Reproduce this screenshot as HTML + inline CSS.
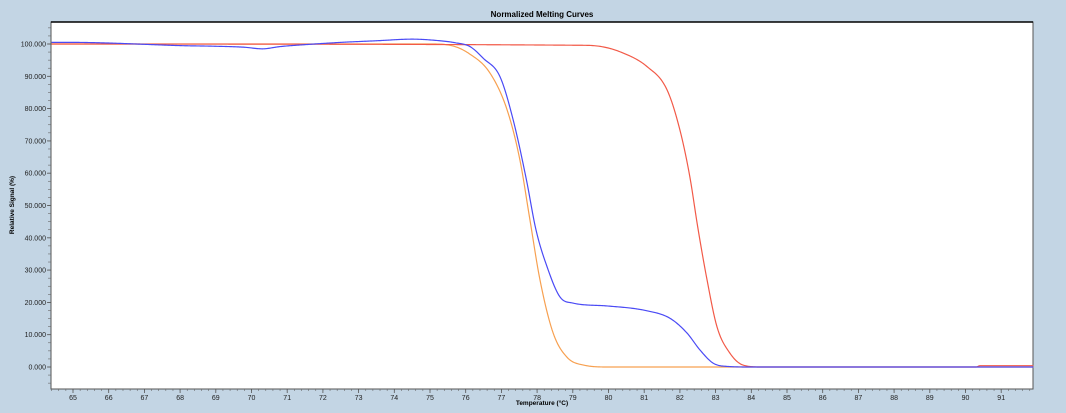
<!DOCTYPE html>
<html><head><meta charset="utf-8"><style>
html,body{margin:0;padding:0;background:#c3d5e4;}
svg{display:block;font-family:"Liberation Sans",sans-serif;}
</style></head><body>
<svg id="chart" width="1066" height="413" viewBox="0 0 1066 413" xmlns="http://www.w3.org/2000/svg">
<rect x="0" y="0" width="1066" height="413" fill="#c3d5e4"/>
<text x="542" y="17" font-size="8" font-weight="bold" text-anchor="middle" fill="#000">Normalized Melting Curves</text>
<rect x="51" y="22" width="982" height="367" fill="#fff" stroke="#555" stroke-width="1"/>
<line x1="51" y1="22" x2="1033" y2="22" stroke="#000" stroke-width="1.5"/>
<g id="axes"></g>
<g id="series"></g>
<text x="14" y="205" font-size="6.5" font-weight="bold" text-anchor="middle" transform="rotate(-90 14 205)">Relative Signal (%)</text>
<text x="542" y="405" font-size="6.5" font-weight="bold" text-anchor="middle">Temperature (°C)</text>
</svg>
<script>
const xTicks = [65,66,67,68,69,70,71,72,73,74,75,76,77,78,79,80,81,82,83,84,85,86,87,88,89,90,91];
const yTicks = [0,10,20,30,40,50,60,70,80,90,100];
const yTickLabels = ["0.000","10.000","20.000","30.000","40.000","50.000","60.000","70.000","80.000","90.000","100.000"];

const blueT = [64.4,65,66,67,68,69,69.8,70.3,70.8,71.5,72.5,73.5,74.5,75.28,75.7,76.12,76.5,76.96,77.33,77.7,77.97,78.28,78.64,79.0,79.96,81.08,81.72,82.2,82.56,82.93,83.3,84,91.9];
const blueV = [100.5,100.5,100.3,99.9,99.5,99.3,99,98.5,99.2,99.8,100.5,101,101.5,101,100.4,99.2,95.5,89.9,76.5,58,42.4,31,21.7,19.8,18.9,17.4,15.1,10.5,5.3,1.2,0.2,0,0];

const orangeT = [64.4,75,75.56,76.1,76.68,77.16,77.52,77.8,78.08,78.45,78.84,79.3,80,91.9];
const orangeV = [100,100,99.6,97,91,79.6,64,45.5,27,10.5,3,0.6,0,0];

const redT = [64.4,79.3,79.8,80.32,81.08,81.64,82.0,82.28,82.5,82.76,83.04,83.4,83.77,84.3,90.3,90.4,91.9];
const redV = [100,99.6,99.2,97.6,93,85.8,73.4,58.8,43.3,27,12.4,4.3,0.6,0,0,0.4,0.4];

const NS='http://www.w3.org/2000/svg';
const x = t => 73 + (t-65)*35.7;
const y = v => 367 - v*3.23;
const axes = document.getElementById('axes');
const series = document.getElementById('series');
function mk(tag, attrs, parent){const e=document.createElementNS(NS,tag);for(const k in attrs)e.setAttribute(k,attrs[k]);parent.appendChild(e);return e;}

for(let t=64.4;t<=91.9;t+=0.2){
  const m=mk('line',{x1:x(t),x2:x(t),y1:389,y2:391,stroke:'#666','stroke-width':0.6},axes);
  
  
}
xTicks.forEach(t=>{
  const l=mk('line',{x1:x(t),x2:x(t),y1:389,y2:393,stroke:'#555','stroke-width':0.8},axes);
  
  
  const tx=mk('text',{x:x(t),y:400,'font-size':7,'text-anchor':'middle',fill:'#222'},axes);
  tx.textContent=t;
  
  
});
for(let v=-5;v<=105;v+=2.5){
  if(y(v)<22||y(v)>389)continue;
  const m=mk('line',{x1:48,x2:51,y1:y(v),y2:y(v),stroke:'#666','stroke-width':0.6},axes);
  
  
}
yTicks.forEach((v,i)=>{
  const l=mk('line',{x1:47,x2:51,y1:y(v),y2:y(v),stroke:'#555','stroke-width':0.8},axes);
  
  
  const tx=mk('text',{x:46,y:y(v)+2.5,'font-size':7,'text-anchor':'end',fill:'#222'},axes);
  tx.textContent=yTickLabels[i];
  
  
});

// monotone cubic (Fritsch-Carlson) sampled along temperature
function monoPath(T,V){
  const n=T.length, d=[], m=new Array(n);
  for(let i=0;i<n-1;i++) d.push((V[i+1]-V[i])/(T[i+1]-T[i]));
  m[0]=d[0]; m[n-1]=d[n-2];
  for(let i=1;i<n-1;i++) m[i]=(d[i-1]*d[i]<=0)?0:(d[i-1]+d[i])/2;
  for(let i=0;i<n-1;i++){
    if(d[i]===0){m[i]=0;m[i+1]=0;continue;}
    const a=m[i]/d[i], b=m[i+1]/d[i], s=a*a+b*b;
    if(s>9){const tau=3/Math.sqrt(s);m[i]=tau*a*d[i];m[i+1]=tau*b*d[i];}
  }
  let path='M'+x(T[0]).toFixed(2)+','+y(V[0]).toFixed(2);
  for(let i=0;i<n-1;i++){
    const h=T[i+1]-T[i], steps=Math.max(2,Math.ceil(h*30));
    for(let k=1;k<=steps;k++){
      const s=k/steps, s2=s*s, s3=s2*s;
      const v=(2*s3-3*s2+1)*V[i]+(s3-2*s2+s)*h*m[i]+(-2*s3+3*s2)*V[i+1]+(s3-s2)*h*m[i+1];
      path+=' L'+x(T[i]+h*s).toFixed(2)+','+y(v).toFixed(2);
    }
  }
  return path;
}
const orange=mk('path',{d:monoPath(orangeT,orangeV),fill:'none',stroke:'#f7a050','stroke-width':1.2},series);


const red=mk('path',{d:monoPath(redT,redV),fill:'none',stroke:'#f25a48','stroke-width':1.2},series);


const blue=mk('path',{d:monoPath(blueT,blueV),fill:'none',stroke:'#4a4af5','stroke-width':1.2},series);


</script>
</body></html>
